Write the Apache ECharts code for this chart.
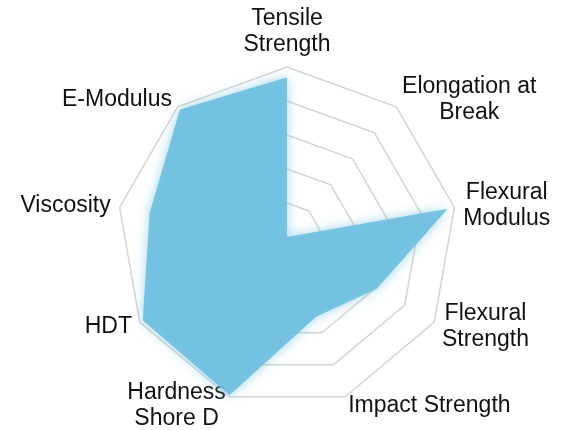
<!DOCTYPE html>
<html>
<head>
<meta charset="utf-8">
<script src="https://cdn.jsdelivr.net/npm/echarts@6/dist/echarts.min.js"></script>
<style>
  html, body { margin: 0; padding: 0; background: #fff; }
  #radar { width: 571px; height: 430px; }
</style>
</head>
<body>
<div id="radar"></div>
<script>
// indicators listed counterclockwise starting from the top
var properties = ['Tensile\nStrength', 'E-Modulus', 'Viscosity', 'HDT', 'Hardness\nShore D',
                  'Impact Strength', 'Flexural\nStrength', 'Flexural\nModulus', 'Elongation at\nBreak'];
var scores = [94, 98, 82, 98, 99, 50, 61, 96, 0];
var maxScore = 100;

var chartDom = document.getElementById('radar');
var chart = echarts.init(chartDom);

var option = {
    animation: false,
    radar: {
        center: [287, 237],
        radius: 170,
        shape: 'polygon',
        splitNumber: 5,
        startAngle: 90,
        indicator: properties.map(function (p) { return { name: p, max: maxScore }; }),
        axisName: {
            // center every line of a label inside its own block
            formatter: function (name) {
                return name.split('\n').map(function (l) { return '{c|' + l + '}'; }).join('\n');
            },
            rich: {
                c: {
                    align: 'center',
                    color: '#111',
                    fontFamily: 'Liberation Sans, Arial, sans-serif',
                    fontSize: 23,
                    lineHeight: 26
                }
            }
        },
        nameGap: 9,
        axisLine: { show: false },
        axisTick: { show: false },
        splitArea: { show: false },
        splitLine: { lineStyle: { color: '#d4d4d4', width: 1.5 } }
    },
    series: [{
        type: 'radar',
        symbol: 'none',
        lineStyle: { width: 0 },
        areaStyle: {
            color: '#6fbfe0',
            opacity: 0.92,
            shadowBlur: 12,
            shadowColor: 'rgba(110,190,225,0.7)'
        },
        data: [{ value: scores, name: 'Properties' }]
    }]
};

chart.setOption(option);
</script>
</body>
</html>
